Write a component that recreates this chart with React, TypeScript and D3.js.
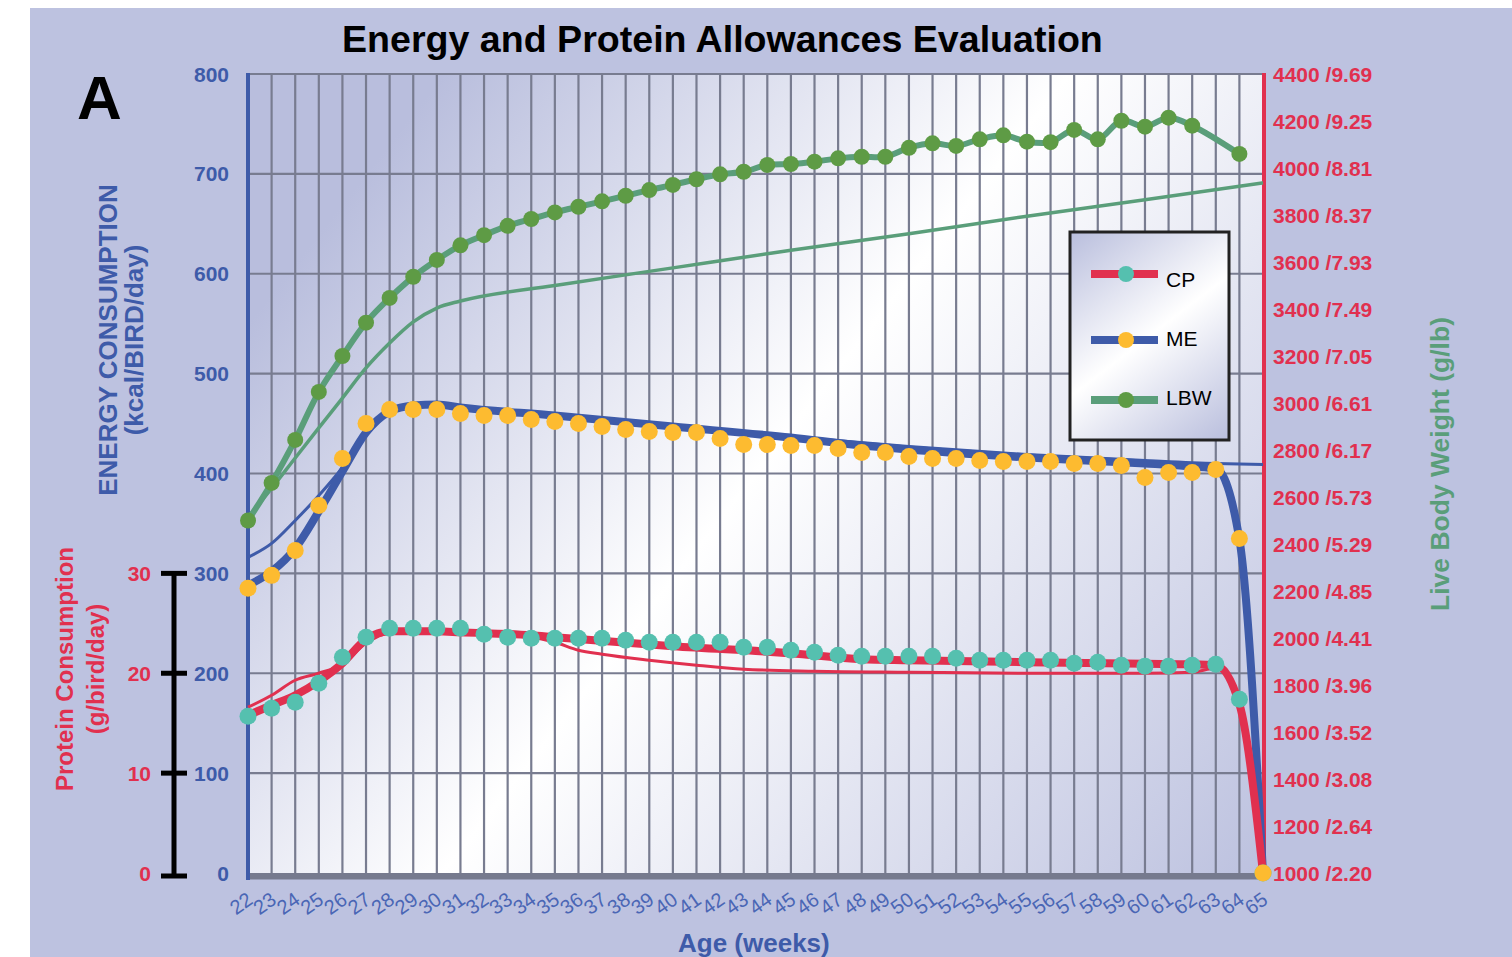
import React from 'react';
import * as d3 from 'd3';

// ---------- data ----------
const weeks = [22,23,24,25,26,27,28,29,30,31,32,33,34,35,36,37,38,39,40,41,42,43,44,45,46,47,48,49,50,51,52,53,54,55,56,57,58,59,60,61,62,63,64,65];

// live body weight dots (g)
const lbwDots: (number | null)[] = [2500,2660,2843,3047,3200,3342,3447,3537,3609,3671,3714,3754,3783,3811,3835,3858,3882,3906,3928,3952,3973,3984,4013,4017,4027,4041,4048,4048,4086,4105,4094,4122,4139,4112,4110,4162,4122,4201,4176,4214,4180,null,4060,null];
// metabolizable energy dots (kcal/bird/day)
const meDots: (number | null)[] = [285,298,323,368,415,450,464,464,464,460,458,458,454,452,450,447,444,442,441,441,435,429,429,428,428,425,421,421,417,415,415,413,412,412,412,410,410,408,396,401,401,404,335,0];
// crude protein dots (g/bird/day)
const cpDots: (number | null)[] = [15.7,16.5,17.1,19.0,21.6,23.6,24.5,24.5,24.5,24.5,23.9,23.6,23.5,23.5,23.5,23.5,23.3,23.1,23.1,23.1,23.1,22.6,22.6,22.3,22.1,21.8,21.7,21.7,21.7,21.7,21.5,21.3,21.3,21.3,21.3,21.0,21.1,20.8,20.7,20.7,20.8,20.9,17.4,0];

// thick (actual) ME curve
const meCurveWeeks = [22,23,24,25,26,27,28,29,30,31,35,40,45,48,50,55,60,62,63,64,65];
const meCurveVals = [288,302,325,362,402,441,462,468,469,466,458,447,436,428,424,416,410,407,405,334,0];
// thin (standard) ME curve
const meStdWeeks = [22,23,24,25,26,27,28,29,30,35,40,45,50,55,60,63,65];
const meStdVals = [316,330,353,378,406,441,462,467,468,458,447,437,427,419,413,410,409];

// thick (actual) CP curve
const cpCurveWeeks = [22,23,24,25,26,27,28,29,30,31,34,35,40,45,48,50,55,60,62,63,64,65];
const cpCurveVals = [15.8,16.8,17.8,19.2,21.0,23.4,24.2,24.2,24.2,24.1,23.8,23.6,22.7,22.0,21.4,21.3,21.1,20.95,20.9,20.8,16.9,0];
// thin (standard) CP curve
const cpStdWeeks = [22,23,24,25,26,27,28,30,34,35,36,37,39,41,43,46,50,55,60,62,63,64,65];
const cpStdVals = [16.6,17.8,19.3,20.0,20.9,23.0,24.0,24.1,23.6,23.1,22.3,21.9,21.3,20.8,20.4,20.2,20.1,20.0,20.0,20.1,20.5,16.9,0];

// thin (standard) LBW curve
const lbwStdWeeks = [22,23,24,25,26,27,28,29,30,31,35,40,45,50,55,60,65];
const lbwStdVals = [2515,2637,2766,2894,3021,3149,3255,3345,3404,3434,3500,3575,3650,3720,3795,3865,3937];

// axes
const energyTicks = [0,100,200,300,400,500,600,700,800];
const energyGrid = [100,200,300,400,500,600,700,800];
const cpTicks = [0,10,20,30];
const lbwTicks = [1000,1200,1400,1600,1800,2000,2200,2400,2600,2800,3000,3200,3400,3600,3800,4000,4200,4400];
const lbLabels = ['2.20','2.64','3.08','3.52','3.96','4.41','4.85','5.29','5.73','6.17','6.61','7.05','7.49','7.93','8.37','8.81','9.25','9.69'];
const legendItems = ['CP','ME','LBW'];

// ---------- styles ----------
const FONT = '"Liberation Sans", Arial, Helvetica, sans-serif';
const BG = '#BDC2E0';
const LAV = '#B9BEDD';
const GRID = '#787C90';
const BLUE = '#3E5BA9';
const RED = '#E1304F';
const YELLOW = '#FDBB30';
const TEAL = '#55C0AF';
const GREEN_DOT = '#5E9B45';
const GREEN_LINE = '#5A9E7A';

export default function App() {
  const x = d3.scaleLinear().domain([22, 65]).range([248, 1263]);
  const yE = d3.scaleLinear().domain([0, 800]).range([873, 74]);
  const yCP = d3.scaleLinear().domain([0, 30]).range([873, yE(300)]);
  const yW = d3.scaleLinear().domain([1000, 4400]).range([873, 74]);

  const mk = (ys: d3.ScaleLinear<number, number>, curve: d3.CurveFactory = d3.curveMonotoneX) =>
    d3.line<[number, number]>().x(d => x(d[0])).y(d => ys(d[1])).curve(curve);

  const zip = (a: number[], b: number[]) => a.map((w, i) => [w, b[i]] as [number, number]);
  const zipDots = (vals: (number | null)[]) =>
    weeks.map((w, i) => [w, vals[i]] as [number, number | null]).filter(d => d[1] !== null) as [number, number][];

  const lbwPts = zipDots(lbwDots);
  const mePts = zipDots(meDots);
  const cpPts = zipDots(cpDots);

  const legendColors: Record<string, [string, string]> = {
    CP: [RED, TEAL],
    ME: [BLUE, YELLOW],
    LBW: [GREEN_LINE, GREEN_DOT],
  };
  const legendY = [274, 340, 400];
  const legendTextY = [287, 346, 405];

  return (
    <svg width={1512} height={957} style={{ position: 'absolute', left: 0, top: 0, display: 'block' }} fontFamily={FONT}>
      <defs>
        <linearGradient id="plotGrad" gradientUnits="userSpaceOnUse" x1={247} y1={74} x2={1265} y2={873}>
          <stop offset="0" stopColor={LAV} />
          <stop offset="0.12" stopColor={LAV} />
          <stop offset="0.5" stopColor="#FFFFFF" />
          <stop offset="1" stopColor="#BCC1DF" />
        </linearGradient>
        <linearGradient id="legGrad" gradientUnits="userSpaceOnUse" x1={1070} y1={232} x2={1229} y2={440}>
          <stop offset="0" stopColor={LAV} />
          <stop offset="0.5" stopColor="#FFFFFF" />
          <stop offset="1" stopColor={LAV} />
        </linearGradient>
      </defs>

      <rect x={30} y={8} width={1482} height={949} fill={BG} />
      <rect x={247} y={74} width={1018} height={799} fill="url(#plotGrad)" />

      {/* grid */}
      {weeks.slice(1, -1).map(w => (
        <line key={'v' + w} x1={x(w)} x2={x(w)} y1={74} y2={873} stroke={GRID} strokeWidth={2.2} />
      ))}
      {energyGrid.map(v => (
        <line key={'h' + v} x1={247} x2={1265} y1={yE(v)} y2={yE(v)} stroke={GRID} strokeWidth={2.2} />
      ))}
      <rect x={247} y={873} width={1016} height={6.5} fill="#767A8E" />

      {/* axes lines */}
      <line x1={248} x2={248} y1={73} y2={880} stroke={BLUE} strokeWidth={4} />
      <line x1={1264} x2={1264} y1={73} y2={873} stroke={RED} strokeWidth={4} />

      {/* title */}
      <text x={342} y={52} fontSize={37.6} fontWeight="bold" fill="#000">Energy and Protein Allowances Evaluation</text>
      <text x={77} y={119} fontSize={62} fontWeight="bold" fill="#000">A</text>

      {/* left energy ticks */}
      {energyTicks.map(v => (
        <text key={'e' + v} x={229} y={yE(v) + 7.5} fontSize={21} fontWeight="bold" fill={BLUE} textAnchor="end">{v}</text>
      ))}
      {/* CP axis */}
      <line x1={174} x2={174} y1={yCP(30)} y2={yCP(0) + 3} stroke="#000" strokeWidth={5} />
      {cpTicks.map(v => (
        <g key={'c' + v}>
          <line x1={161} x2={187} y1={yCP(v) + (v === 0 ? 3 : 0)} y2={yCP(v) + (v === 0 ? 3 : 0)} stroke="#000" strokeWidth={5} />
          <text x={151} y={yCP(v) + 7.5} fontSize={21} fontWeight="bold" fill={RED} textAnchor="end">{v}</text>
        </g>
      ))}

      {/* right ticks */}
      {lbwTicks.map((v, i) => (
        <text key={'w' + v} x={1273} y={yW(v) + 7.5} fontSize={21} fontWeight="bold" fill={RED}>{v + ' /' + lbLabels[i]}</text>
      ))}

      {/* axis titles */}
      <g transform="translate(117,340) rotate(-90)">
        <text x={0} y={0} fontSize={26} fontWeight="bold" fill={BLUE} textAnchor="middle">ENERGY CONSUMPTION</text>
      </g>
      <g transform="translate(143,340) rotate(-90)">
        <text x={0} y={0} fontSize={26} fontWeight="bold" fill={BLUE} textAnchor="middle">(kcal/BIRD/day)</text>
      </g>
      <g transform="translate(73,669) rotate(-90)">
        <text x={0} y={0} fontSize={24} fontWeight="bold" fill={RED} textAnchor="middle">Protein Consumption</text>
      </g>
      <g transform="translate(104,669) rotate(-90)">
        <text x={0} y={0} fontSize={24} fontWeight="bold" fill={RED} textAnchor="middle">(g/bird/day)</text>
      </g>
      <g transform="translate(1449,464) rotate(-90)">
        <text x={0} y={0} fontSize={26.5} fontWeight="bold" fill={GREEN_LINE} textAnchor="middle">Live Body Weight (g/lb)</text>
      </g>

      {/* x tick labels */}
      {weeks.map(w => (
        <g key={'xl' + w} transform={`translate(${x(w) - 3},909) rotate(-35)`}>
          <text x={0} y={0} fontSize={20} fill="#4A66B5" textAnchor="middle">{w}</text>
        </g>
      ))}
      <text x={678} y={952} fontSize={26} fontWeight="bold" fill={BLUE}>Age (weeks)</text>

      {/* LBW */}
      <path d={mk(yW)(zip(lbwStdWeeks, lbwStdVals)) || ''} fill="none" stroke={GREEN_LINE} strokeWidth={3.5} />
      <path d={mk(yW, d3.curveCatmullRom.alpha(0.5))(lbwPts) || ''} fill="none" stroke={GREEN_LINE} strokeWidth={6} />

      {/* ME */}
      <path d={mk(yE)(zip(meStdWeeks, meStdVals)) || ''} fill="none" stroke={BLUE} strokeWidth={3} />
      <path d={mk(yE)(zip(meCurveWeeks, meCurveVals)) || ''} fill="none" stroke={BLUE} strokeWidth={8} />

      {/* CP */}
      <path d={mk(yCP)(zip(cpStdWeeks, cpStdVals)) || ''} fill="none" stroke={RED} strokeWidth={3} />
      <path d={mk(yCP)(zip(cpCurveWeeks, cpCurveVals)) || ''} fill="none" stroke={RED} strokeWidth={8} />

      {/* dots */}
      {lbwPts.map(d => <circle key={'gd' + d[0]} cx={x(d[0])} cy={yW(d[1])} r={8} fill={GREEN_DOT} />)}
      {cpPts.map(d => <circle key={'td' + d[0]} cx={x(d[0])} cy={yCP(d[1])} r={8.5} fill={TEAL} />)}
      {mePts.map(d => <circle key={'yd' + d[0]} cx={x(d[0])} cy={yE(d[1])} r={8.5} fill={YELLOW} />)}

      {/* legend */}
      <rect x={1070} y={232} width={159} height={208} fill="url(#legGrad)" stroke="#222" strokeWidth={3} />
      {legendItems.map((k, i) => (
        <g key={'lg' + k}>
          <line x1={1091} x2={1158} y1={legendY[i]} y2={legendY[i]} stroke={legendColors[k][0]} strokeWidth={8} />
          <circle cx={1126} cy={legendY[i]} r={8} fill={legendColors[k][1]} />
          <text x={1166} y={legendTextY[i]} fontSize={21} fill="#000">{k}</text>
        </g>
      ))}
    </svg>
  );
}
